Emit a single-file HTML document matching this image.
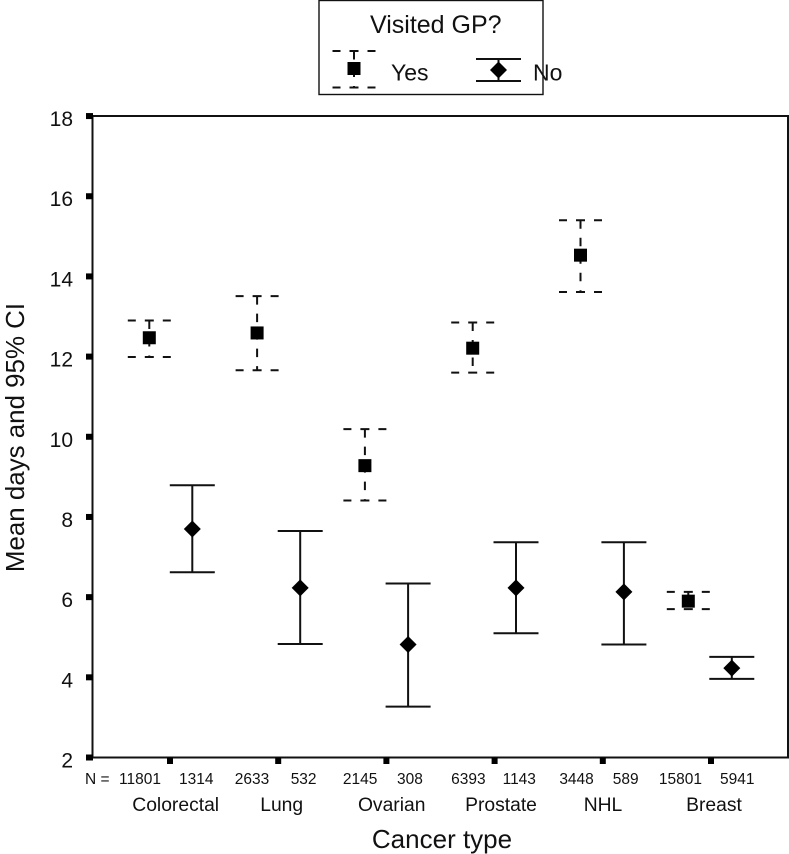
<!DOCTYPE html>
<html>
<head>
<meta charset="utf-8">
<title>Mean days and 95% CI by cancer type</title>
<style>
html,body{margin:0;padding:0;background:#fff;}
svg{display:block;}
text{font-family:"Liberation Sans",Arial,sans-serif;fill:#111;}
</style>
</head>
<body>
<svg id="chart" xmlns="http://www.w3.org/2000/svg" width="789" height="854" viewBox="0 0 789 854"></svg>
<script>
const categories = ["Colorectal", "Lung", "Ovarian", "Prostate", "NHL", "Breast"];
const yTicks = [2, 4, 6, 8, 10, 12, 14, 16, 18];
const yesMean = [12.47, 12.59, 9.28, 12.21, 14.53, 5.90];
const yesUpper = [12.90, 13.51, 10.19, 12.85, 15.40, 6.13];
const yesLower = [11.99, 11.66, 8.41, 11.60, 13.61, 5.70];
const noMean = [7.70, 6.23, 4.82, 6.23, 6.13, 4.23];
const noUpper = [8.79, 7.65, 6.34, 7.37, 7.37, 4.51];
const noLower = [6.62, 4.83, 3.27, 5.10, 4.82, 3.96];
const yesN = ["11801", "2633", "2145", "6393", "3448", "15801"];
const noN = ["1314", "532", "308", "1143", "589", "5941"];

const svg = document.getElementById('chart');
const NS = 'http://www.w3.org/2000/svg';
const INK = '#111';

function yScale(v) { return 757.5 - (v - 2) * 40.09; }
function xTick(i) { return 170 + i * 108.2; }
function xYes(i) { return 149.3 + i * 107.8; }
function xNo(i) { return 192.3 + i * 107.9; }
function xCategoryLabel(i) {
  return xTick(i) + [5.7, 3.5, 5.3, 6.4, 0.2, 3][i];
}
function xNoLabel(i) {
  return xTick(i) + [9, 12.5, 10.6, 8, 10, 9][i];
}

function make(tag, attrs, parent) {
  const el = document.createElementNS(NS, tag);
  for (const k in attrs) el.setAttribute(k, attrs[k]);
  (parent || svg).appendChild(el);
  return el;
}
function line(x1, y1, x2, y2, parent, dash) {
  const attrs = {x1: x1, y1: y1, x2: x2, y2: y2, stroke: INK, 'stroke-width': 2};
  if (dash) attrs['stroke-dasharray'] = dash;
  return make('line', attrs, parent);
}
function label(str, x, y, size, anchor, parent) {
  const t = make('text', {x: x, y: y, 'font-size': size, 'text-anchor': anchor}, parent);
  t.textContent = str;
  return t;
}
function square(cx, cy, parent) {
  return make('rect', {x: cx - 6.5, y: cy - 6.5, width: 13, height: 13, fill: '#000'}, parent);
}
function diamond(cx, cy, parent) {
  return make('polygon', {points: [cx, cy - 8.5, cx + 8.5, cy, cx, cy + 8.5, cx - 8.5, cy].join(' '), fill: '#000'}, parent);
}
function yesBar(cx, yu, yl, parent) {
  line(cx - 21.5, yu, cx + 21.5, yu, parent, '8 9 9 9 8');
  line(cx - 21.5, yl, cx + 21.5, yl, parent, '8 9 9 9 8');
  line(cx, yu, cx, yl, parent, '8.5 9');
}
function noBar(cx, yu, yl, parent) {
  line(cx - 22.5, yu, cx + 22.5, yu, parent);
  line(cx - 22.5, yl, cx + 22.5, yl, parent);
  line(cx, yu, cx, yl, parent);
}

/* frame */
const frame = make('rect', {x: 92.5, y: 116, width: 695.5, height: 641.5, fill: 'none', stroke: INK, 'stroke-width': 2});



/* y axis */
const yAxis = make('g', {});


yTicks.forEach(function (v) {
  const tick = make('rect', {x: 86, y: yScale(v) - 3, width: 7, height: 6, fill: '#000'}, yAxis);
  
  
  const tl = label(String(v), 73, yScale(v) + 10, 21, 'end', yAxis);
  
  
});
const yTitle = label('Mean days and 95% CI', 0, 0, 25.9, 'middle');
yTitle.setAttribute('transform', 'translate(24,437.5) rotate(-90)');



/* x axis */
const xAxis = make('g', {});


const nPrefix = label('N =', 85, 784, 15.5, 'start', xAxis);


categories.forEach(function (c, i) {
  const tick = make('rect', {x: xTick(i) - 3, y: 757.5, width: 6, height: 6.5, fill: '#000'}, xAxis);
  
  
  const cl = label(c, xCategoryLabel(i), 811, 19.3, 'middle', xAxis);
  
  
  const ny = label(yesN[i], xTick(i) - 9, 784, 15.5, 'end', xAxis);
  
  
  const nn = label(noN[i], xNoLabel(i), 784, 15.5, 'start', xAxis);
  
  
});
const xTitle = label('Cancer type', 442, 848, 26, 'middle');



/* series */
const yesSeries = make('g', {});


const noSeries = make('g', {});


categories.forEach(function (c, i) {
  const gy = make('g', {}, yesSeries);
  
  
  yesBar(xYes(i), yScale(yesUpper[i]), yScale(yesLower[i]), gy);
  square(xYes(i), yScale(yesMean[i]), gy);
  const gn = make('g', {}, noSeries);
  
  
  noBar(xNo(i), yScale(noUpper[i]), yScale(noLower[i]), gn);
  diamond(xNo(i), yScale(noMean[i]), gn);
});

/* legend */
const legend = make('g', {});


make('rect', {x: 319, y: 0.5, width: 224, height: 94, fill: '#fff', stroke: INK, 'stroke-width': 1.4}, legend);
const legendTitle = label('Visited GP?', 370, 33, 25, 'start', legend);


const entryYes = make('g', {}, legend);


yesBar(354, 51, 87.5, entryYes);
square(354, 68.5, entryYes);
label('Yes', 391, 80.5, 23, 'start', entryYes);
const entryNo = make('g', {}, legend);


noBar(498.5, 59, 81, entryNo);
diamond(498.5, 70, entryNo);
label('No', 533, 80.5, 23, 'start', entryNo);
</script>
</body>
</html>
